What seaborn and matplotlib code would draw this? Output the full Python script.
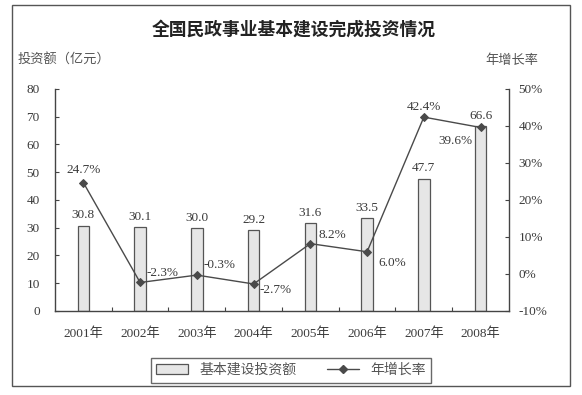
import seaborn as sns
import pandas as pd
import numpy as np
import matplotlib.pyplot as plt
from matplotlib.patches import Rectangle, Patch
from matplotlib.lines import Line2D

years = ['2001年', '2002年', '2003年', '2004年', '2005年', '2006年', '2007年', '2008年']
invest = [30.8, 30.1, 30.0, 29.2, 31.6, 33.5, 47.7, 66.6]
growth = [24.7, -2.3, -0.3, -2.7, 8.2, 6.0, 42.4, 39.6]

# label offsets (points) for the growth-rate texts
growth_offsets = [(0, 9), (16, 7), (16, 7), (16, -4), (16, 6), (18, -8), (0, 7), (-18, -10)]

sns.set_theme(style='white')
plt.rcParams['font.family'] = ['Liberation Serif', 'Noto Sans CJK SC']
txt = '#3a3a3a'

fig = plt.figure(figsize=(5.82, 3.95), dpi=100)
ax = fig.add_axes([0.0945, 0.2127, 0.78, 0.562])

df = pd.DataFrame({'year': years, 'invest': invest, 'growth': growth})
sns.barplot(data=df, x='year', y='invest', ax=ax, width=0.2,
            color='#e6e6e6', edgecolor='#555555', linewidth=0.9, saturation=1)
ax.set_ylim(0, 80)
ax.set_yticks(np.arange(0, 81, 10))
ax.set_xlabel('')
ax.set_ylabel('')
for i, v in enumerate(invest):
    ax.annotate(f'{v:.1f}', (i, v), xytext=(0, 3), textcoords='offset points',
                ha='center', va='bottom', fontsize=9.5, color=txt)

ax2 = ax.twinx()
sns.pointplot(data=df, x='year', y='growth', ax=ax2, color='#4a4a4a',
              markers='D', markersize=4.5, linewidth=1.0)
ax2.set_ylim(-10, 50)
ax2.set_yticks(np.arange(-10, 51, 10))
ax2.set_yticklabels([f'{t}%' for t in range(-10, 51, 10)])
ax2.set_ylabel('')
ax2.set_xlabel('')
for i, g in enumerate(growth):
    dx, dy = growth_offsets[i]
    ax2.annotate(f'{g:.1f}%', (i, g), xytext=(dx, dy), textcoords='offset points',
                 ha='center', va='center', fontsize=9.5, color=txt)

ax.set_xlim(-0.5, 7.5)
for a in (ax, ax2):
    a.spines['top'].set_visible(False)
    a.tick_params(colors=txt, labelsize=9.5)
ax.spines['right'].set_visible(False)
ax2.spines['left'].set_visible(False)
ax2.spines['bottom'].set_visible(False)
for s in ('left', 'bottom'):
    ax.spines[s].set_color('#444444')
    ax.spines[s].set_linewidth(1.0)
ax2.spines['right'].set_color('#444444')
ax2.spines['right'].set_linewidth(1.0)

ax.tick_params(axis='y', direction='in', length=3, width=0.8, color='#444444', pad=11)
ax2.tick_params(axis='y', direction='in', length=3, width=0.8, color='#444444', pad=7)
ax.tick_params(axis='x', which='major', length=0, pad=12)
ax.set_xticks(np.arange(0.5, 7, 1), minor=True)
ax.tick_params(axis='x', which='minor', direction='in', length=3, width=0.8,
               color='#444444', bottom=True)
ax.grid(False)
ax2.grid(False)

fig.text(0.505, 0.925, '全国民政事业基本建设完成投资情况', ha='center', va='center',
         fontsize=12.8, fontweight='bold', color='#222222', family='Noto Sans CJK SC')
fig.text(0.03, 0.848, '投资额（亿元）', ha='left', va='center', fontsize=9.5,
         color='#555555', family='Noto Sans CJK SC')
fig.text(0.88, 0.848, '年增长率', ha='center', va='center', fontsize=9.5,
         color='#555555', family='Noto Sans CJK SC')

handles = [Patch(facecolor='#e6e6e6', edgecolor='#555555', linewidth=0.9),
           Line2D([], [], color='#4a4a4a', marker='D', markersize=4, linewidth=1.0)]
fig.legend(handles, ['基本建设投资额', '年增长率'], loc='center', ncol=2,
           bbox_to_anchor=(0.5, 0.063), frameon=True, fancybox=False,
           edgecolor='#444444', handlelength=2.3, columnspacing=2.2,
           borderpad=0.4, labelcolor='#555555',
           prop={'family': 'Noto Sans CJK SC', 'size': 10})

fig.patches.append(Rectangle((0.021, 0.023), 0.958, 0.964, transform=fig.transFigure,
                             fill=False, edgecolor='#555555', linewidth=1.0))

fig.savefig('out.png', dpi=100)
